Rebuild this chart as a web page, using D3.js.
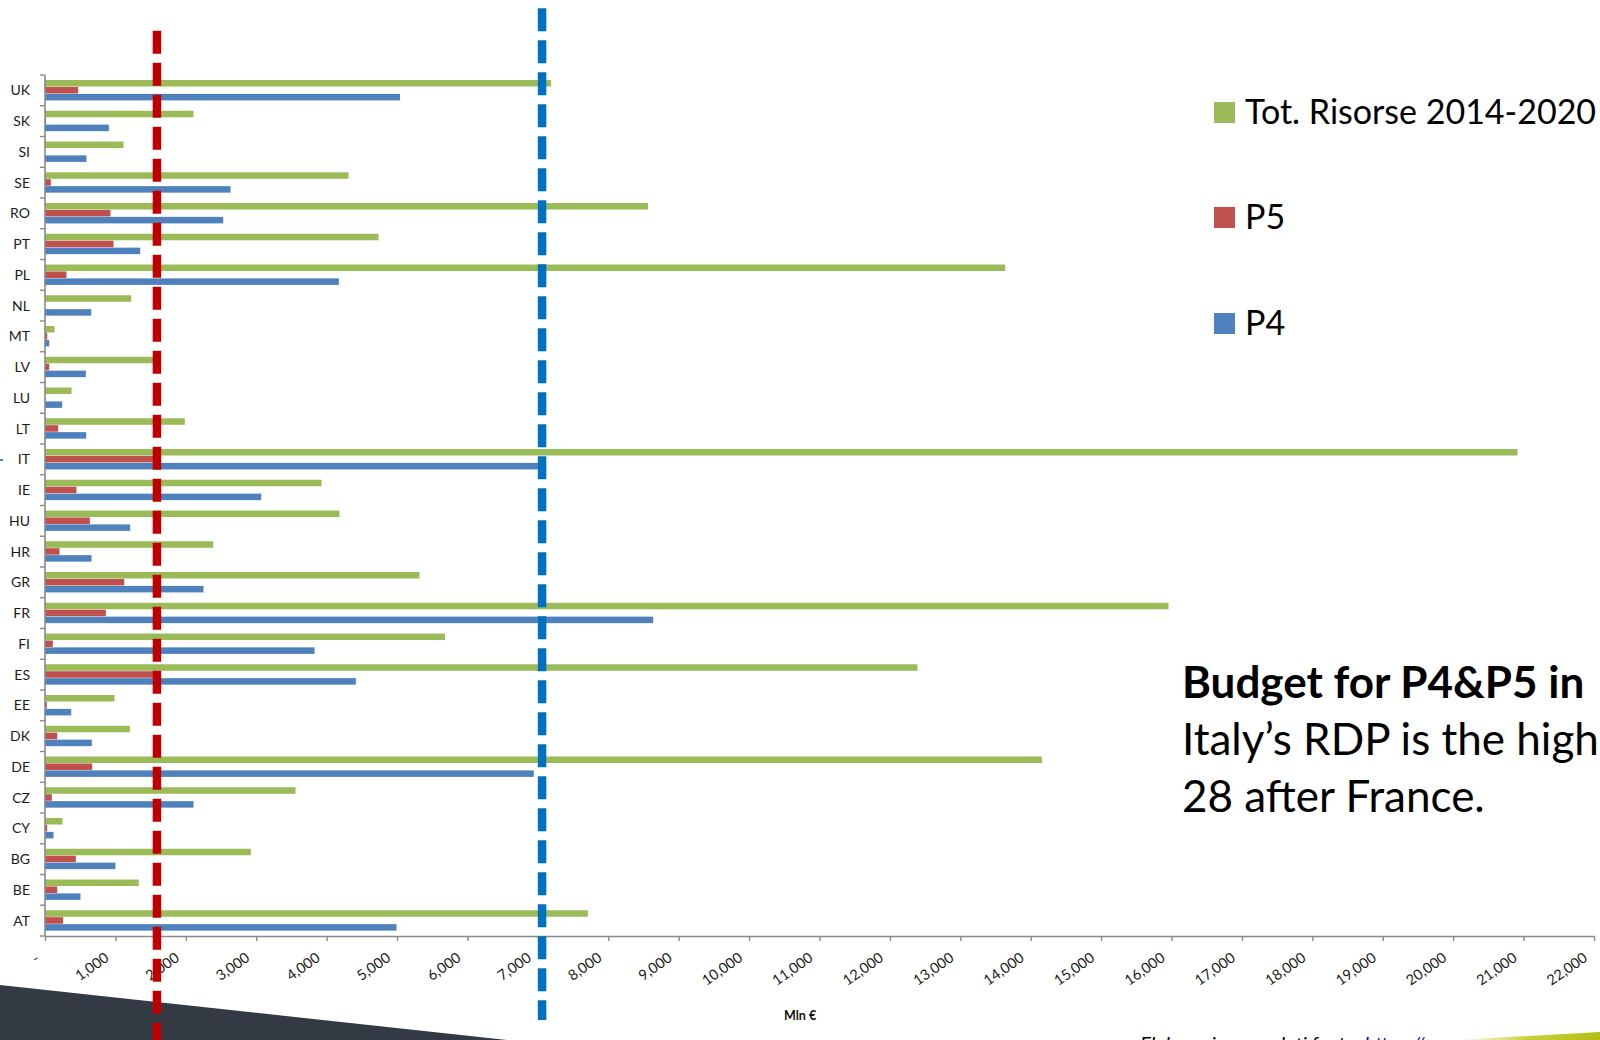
<!DOCTYPE html>
<html>
<head>
<meta charset="utf-8">
<script src="https://cdn.jsdelivr.net/npm/d3@7"></script>
<style>
  html, body { margin: 0; padding: 0; background: #ffffff; }
  svg { display: block; font-family: Lato, "Open Sans", sans-serif; }
</style>
</head>
<body>
<svg id="chart" width="1600" height="1040"></svg>
<script>
// ---- data (Mln €) ----
const categories = ["AT","BE","BG","CY","CZ","DE","DK","EE","ES","FI","FR","GR","HR","HU","IE","IT","LT","LU","LV","MT","NL","PL","PT","RO","SE","SI","SK","UK"];
const totRisorse = [7710,1332,2923,249,3558,14159,1205,987,12391,5681,15957,5319,2389,4183,3928,20913,1986,377,1541,135,1224,13638,4737,8565,4311,1115,2109,7188];
const p5Values   = [258,173,438,31,97,670,173,26,1550,111,864,1125,206,637,447,1590,187,0,60,31,0,305,973,930,83,0,15,471];
const p4Values   = [4993,504,1000,121,2109,6942,665,372,4415,3828,8638,2251,661,1210,3071,7060,585,244,580,60,656,4174,1352,2531,2635,589,907,5043];
const seriesNames = ["Tot. Risorse 2014-2020","P5","P4"];
const seriesColors = ["#9BBB59","#C0504D","#4F81BD"];
const xTickValues = [0,1000,2000,3000,4000,5000,6000,7000,8000,9000,10000,11000,12000,13000,14000,15000,16000,17000,18000,19000,20000,21000,22000];
const refLineValues = [1590, 7060];   // Italy P5, Italy P4
const refLineColors = ["#C00000", "#0070C0"];
const axisTitle = "Mln €";
const noteLines = ["Budget for P4&P5 in", "Italy’s RDP is the highest in EU-", "28 after France."];

// ---- layout ----
const svg = d3.select("#chart");
const plot = { left: 45, right: 1594, top: 75, bottom: 936 };

const x = d3.scaleLinear().domain([0, 22000]).range([plot.left, plot.right]);
const y0 = d3.scaleBand().domain(categories.slice().reverse()).range([plot.top, plot.bottom]);
const bw = y0.bandwidth();
const y1 = d3.scaleBand().domain(seriesNames).range([0.163 * bw, 0.826 * bw]).paddingInner(0.06);

const rows = categories.map((c, i) => ({ cat: c, vals: [totRisorse[i], p5Values[i], p4Values[i]] }));

// background decorations
svg.append("polygon")
  .attr("points", "0,985 507,1040 0,1040")
  .attr("fill", "#333A44");

const defs = svg.append("defs");
const grad = defs.append("linearGradient").attr("id", "yg").attr("x1", "0").attr("x2", "1").attr("y1", "0").attr("y2", "0");
grad.append("stop").attr("offset", "0").attr("stop-color", "#ffffff");
grad.append("stop").attr("offset", "0.5").attr("stop-color", "#C9D13A");
grad.append("stop").attr("offset", "1").attr("stop-color", "#B3BE16");
svg.append("polygon")
  .attr("points", "1455,1040 1600,1032 1600,1040")
  .attr("fill", "url(#yg)");

// bars
const groups = svg.append("g").selectAll("g")
  .data(rows).join("g")
  .attr("transform", d => `translate(0,${y0(d.cat)})`);

groups.selectAll("rect")
  .data(d => d.vals.map((v, k) => ({ v, k })))
  .join("rect")
  .attr("x", x(0))
  .attr("y", d => y1(seriesNames[d.k]))
  .attr("height", y1.bandwidth())
  .attr("width", d => Math.max(0, x(d.v) - x(0)))
  .attr("fill", d => seriesColors[d.k]);

// y axis
const axisColor = "#8a8a8a";
const yAxis = svg.append("g");
yAxis.append("line")
  .attr("x1", plot.left).attr("x2", plot.left)
  .attr("y1", plot.top).attr("y2", plot.bottom)
  .attr("stroke", axisColor).attr("stroke-width", 1.6);
const boundaries = y0.domain().map(c => y0(c)).concat([plot.bottom]);
yAxis.selectAll("line.tk").data(boundaries).join("line")
  .attr("class", "tk")
  .attr("x1", plot.left - 5).attr("x2", plot.left)
  .attr("y1", d => d).attr("y2", d => d)
  .attr("stroke", axisColor).attr("stroke-width", 1.4);
yAxis.selectAll("text").data(y0.domain()).join("text")
  .attr("x", 30)
  .attr("y", d => y0(d) + bw / 2)
  .attr("dy", "0.36em")
  .attr("text-anchor", "end")
  .attr("font-size", 14)
  .attr("fill", "#1a1a1a")
  .text(d => d);

// x axis
const fmt = d3.format(",");
const xAxis = svg.append("g")
  .attr("transform", `translate(0,${plot.bottom})`)
  .call(d3.axisBottom(x).tickValues(xTickValues).tickSize(5).tickSizeOuter(0).tickFormat(d => d === 0 ? "-" : fmt(d)));
xAxis.select(".domain").attr("stroke", axisColor).attr("stroke-width", 1.6);
xAxis.selectAll(".tick line").attr("stroke", axisColor).attr("stroke-width", 1.4);
xAxis.selectAll(".tick text")
  .attr("font-family", "Lato, sans-serif")
  .attr("font-size", 14.5)
  .attr("fill", "#1a1a1a")
  .attr("text-anchor", "end")
  .attr("dy", null)
  .attr("y", 0)
  .attr("x", 0)
  .attr("transform", d => d === 0 ? "translate(-5,25) rotate(-35)" : "translate(-6,24) rotate(-35)");

svg.append("text")
  .attr("x", 784).attr("y", 1020)
  .attr("font-size", 12.5).attr("font-weight", "bold").attr("fill", "#111")
  .text(axisTitle);

// reference dashed lines
const refTops = [30.7, 8.3];
const refBottoms = [1040, 1020];
svg.append("g").selectAll("line").data(refLineValues).join("line")
  .attr("x1", d => x(d)).attr("x2", d => x(d))
  .attr("y1", (d, i) => refTops[i]).attr("y2", (d, i) => refBottoms[i])
  .attr("stroke", (d, i) => refLineColors[i])
  .attr("stroke-width", 8.5)
  .attr("stroke-dasharray", "23 9");

// small blue mark at left
svg.append("rect").attr("x", 0).attr("y", 459).attr("width", 3).attr("height", 2).attr("fill", "#4F81BD");

// legend
const legend = svg.append("g");
const legTops = [102, 207, 313];
seriesNames.forEach((s, i) => {
  legend.append("rect")
    .attr("x", 1214).attr("y", legTops[i]).attr("width", 21).attr("height", 21)
    .attr("fill", seriesColors[i]);
  legend.append("text")
    .attr("x", 1245).attr("y", legTops[i] + 22)
    .attr("font-size", 34).attr("fill", "#000")
    .text(s);
});

// annotation text
const note = svg.append("g").attr("font-size", 44).attr("fill", "#000");
note.append("text").attr("x", 1182).attr("y", 698).attr("font-weight", "bold").text(noteLines[0]);
note.append("text").attr("x", 1182).attr("y", 755).text(noteLines[1]);
note.append("text").attr("x", 1182).attr("y", 812).text(noteLines[2]);

// source footnote (cut at bottom like the reference)
const foot = svg.append("text")
  .attr("x", 1140).attr("y", 1051)
  .attr("font-size", 20).attr("font-style", "italic").attr("fill", "#000");
foot.append("tspan").text("Elaborazione su dati fonte: ");
foot.append("tspan").attr("fill", "#0000EE").attr("text-decoration", "underline").text("https://ec.europa.eu");
</script>
</body>
</html>
